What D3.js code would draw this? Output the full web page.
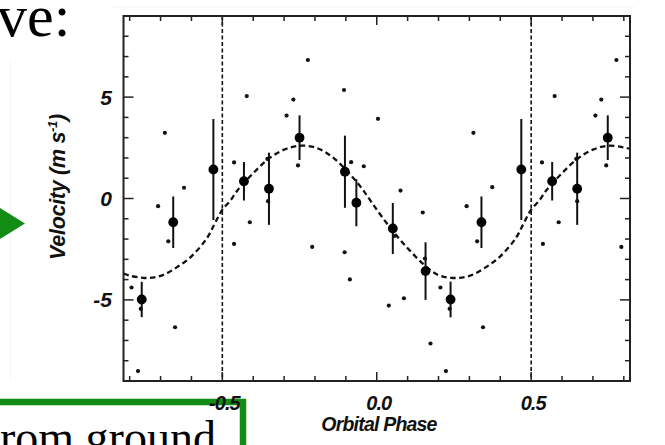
<!DOCTYPE html>
<html><head><meta charset="utf-8">
<script src="https://cdn.jsdelivr.net/npm/d3@7"></script>
<style>body{margin:0;background:#fff;} svg{display:block;}</style>
</head><body>
<svg id="c" width="665" height="445"></svg>
<script>
// binned velocity points (phase, velocity, error)
const binPhase = [-0.761, -0.659, -0.529, -0.430, -0.349, -0.250, -0.103, -0.066, 0.052, 0.158, 0.239, 0.339, 0.468, 0.568, 0.649, 0.748];
const binVel   = [-4.98, -1.17, 1.43, 0.85, 0.48, 3.00, 1.32, -0.21, -1.48, -3.58, -4.98, -1.17, 1.43, 0.85, 0.48, 3.00];
const binErr   = [0.87, 1.27, 2.49, 0.95, 1.78, 1.10, 1.78, 1.16, 1.26, 1.42, 0.88, 1.27, 2.49, 0.95, 1.78, 1.10];
// individual measurements
const dotPhase = [-0.686, 0.313, -0.624, 0.374, -0.708, 0.291, -0.421, 0.576, -0.462, 0.535, -0.354, 0.646, -0.352, 0.649,
  -0.223, 0.776, -0.270, 0.727, -0.292, 0.708, -0.255, 0.743, -0.106, -0.083, -0.042, 0.004, 0.077, 0.149,
  -0.411, 0.589, -0.462, 0.538, -0.209, 0.792, -0.104, -0.087, 0.039, 0.088, 0.174, 0.224, -0.773, 0.344, -0.653,
  0.206, -0.794, 0.236, -0.764, 0.325, -0.675, 0.156, 0.058];
const dotVel = [3.24, 3.24, 0.53, 0.56, -0.38, -0.38, 5.05, 5.05, 1.78, 1.78, 1.95, 1.95, -0.13, -0.13,
  6.83, 6.83, 4.88, 4.88, 4.09, 4.09, 1.63, 1.63, 5.35, 1.79, 1.59, 3.93, 0.39, -0.69,
  -1.17, -1.17, -2.24, -2.24, -2.39, -2.39, -2.65, -3.99, -5.28, -4.92, -7.15, -8.51, -8.51, -6.35, -6.35,
  -4.39, -4.39, -5.44, -5.44, -2.11, -2.11, -2.96, -1.85];
// model curve
const curvePhase = [-0.82,-0.80,-0.75,-0.70,-0.65,-0.60,-0.55,-0.525,-0.50,-0.475,-0.45,-0.40,-0.35,-0.30,-0.25,-0.20,-0.15,-0.10,-0.05,0.00,0.05,0.10,0.15,0.20,0.25,0.30,0.35,0.40,0.45,0.475,0.50,0.525,0.55,0.60,0.65,0.70,0.75,0.80,0.82];
const curveVel = [-3.70,-3.80,-3.92,-3.82,-3.42,-2.85,-1.96,-1.25,-0.55,-0.12,0.42,1.25,1.96,2.41,2.60,2.52,2.12,1.42,0.53,-0.55,-1.57,-2.45,-3.22,-3.78,-3.92,-3.82,-3.42,-2.85,-1.96,-1.25,-0.55,-0.12,0.42,1.25,1.96,2.41,2.60,2.52,2.45];
const markerPhases = [-0.5, 0.5];
const xTickValues = [-0.5, 0, 0.5];
const xTickLabels = ["-0.5", "0.0", "0.5"];
const yTickValues = [-5, 0, 5];
const yTickLabels = ["-5", "0", "5"];

const svg = d3.select("#c");
const L = 123.5, R = 630, T = 16, B = 381;
const x = d3.scaleLinear().domain([-0.82, 0.82]).range([L, R]);
const y = d3.scaleLinear().domain([-9, 9]).range([B, T]);
const font = "'Liberation Sans', Arial, Helvetica, sans-serif";
const green = "#128c14";

svg.append("rect").attr("width", 665).attr("height", 445).attr("fill", "#fff");

// faint slide artefacts
svg.append("line").attr("x1", 112).attr("x2", 634).attr("y1", 7).attr("y2", 7).attr("stroke", "#f3f3f3").attr("stroke-width", 1);
svg.append("line").attr("x1", 10.5).attr("x2", 10.5).attr("y1", 60).attr("y2", 380).attr("stroke", "#f5f5f5").attr("stroke-width", 1);

// title fragment
svg.append("text").attr("x", -3).attr("y", 36).attr("font-family", "'Liberation Serif', 'Times New Roman', serif")
  .attr("font-size", 60).attr("fill", "#000").text("ve:");

// arrow
svg.append("path").attr("d", "M0,208 L25,223.5 L0,239 Z").attr("fill", green);

// dashed markers at phase ±0.5
svg.selectAll(".vm").data(markerPhases).enter().append("line")
  .attr("x1", d => x(d)).attr("x2", d => x(d)).attr("y1", T).attr("y2", B)
  .attr("stroke", "#111").attr("stroke-width", 1.6).attr("stroke-dasharray", "4,2.5");

// model curve
const line = d3.line().x((d, i) => x(curvePhase[i])).y(d => y(d)).curve(d3.curveCatmullRom.alpha(0.5));
svg.append("path").attr("d", line(curveVel)).attr("fill", "none").attr("stroke", "#111")
  .attr("stroke-width", 2.3).attr("stroke-dasharray", "5.5,3.5");

// individual points
svg.selectAll(".dot").data(dotVel).enter().append("circle")
  .attr("cx", (d, i) => x(dotPhase[i])).attr("cy", d => y(d)).attr("r", 2.1).attr("fill", "#111");

// error bars & binned points
svg.selectAll(".eb").data(binVel).enter().append("line")
  .attr("x1", (d, i) => x(binPhase[i])).attr("x2", (d, i) => x(binPhase[i]))
  .attr("y1", (d, i) => y(d + binErr[i])).attr("y2", (d, i) => y(d - binErr[i]))
  .attr("stroke", "#111").attr("stroke-width", 2);
svg.selectAll(".bp").data(binVel).enter().append("circle")
  .attr("cx", (d, i) => x(binPhase[i])).attr("cy", d => y(d)).attr("r", 4.9).attr("fill", "#000");

// frame
svg.append("rect").attr("x", L).attr("y", T).attr("width", R - L).attr("height", B - T)
  .attr("fill", "none").attr("stroke", "#222").attr("stroke-width", 2);

// ticks
const xMinor = d3.range(-8, 9).map(v => v / 10);
const yMinor = d3.range(-8, 9);
const isMajX = v => xTickValues.some(t => Math.abs(t - v) < 1e-9);
const isMajY = v => yTickValues.some(t => Math.abs(t - v) < 1e-9);
const tk = svg.append("g").attr("stroke", "#222").attr("stroke-width", 1.5);
xMinor.forEach(v => {
  const len = isMajX(v) ? 9 : 5;
  tk.append("line").attr("x1", x(v)).attr("x2", x(v)).attr("y1", B).attr("y2", B - len);
  tk.append("line").attr("x1", x(v)).attr("x2", x(v)).attr("y1", T).attr("y2", T + len);
});
yMinor.forEach(v => {
  const len = isMajY(v) ? 10 : 5;
  tk.append("line").attr("x1", L).attr("x2", L + len).attr("y1", y(v)).attr("y2", y(v));
  tk.append("line").attr("x1", R).attr("x2", R - len).attr("y1", y(v)).attr("y2", y(v));
});

// green box (slide overlay)
svg.append("path").attr("d", "M-5,402 L243,402 L243,450").attr("fill", "none").attr("stroke", green).attr("stroke-width", 6.5);
svg.append("text").attr("x", 0).attr("y", 453).attr("font-family", "'Liberation Serif', 'Times New Roman', serif")
  .attr("font-size", 46).attr("fill", "#000").text("rom ground");

// tick labels
svg.selectAll(".xl").data(xTickValues).enter().append("text")
  .attr("x", d => x(d) + 2).attr("y", 410).attr("text-anchor", "middle")
  .attr("font-family", font).attr("font-weight", "bold").attr("font-style", "italic")
  .attr("font-size", 20).attr("letter-spacing", -1).attr("fill", "#111")
  .text((d, i) => xTickLabels[i]);
svg.selectAll(".yl").data(yTickValues).enter().append("text")
  .attr("x", 112).attr("y", d => y(d) + 7.5).attr("text-anchor", "end")
  .attr("font-family", font).attr("font-weight", "bold").attr("font-style", "italic")
  .attr("font-size", 21).attr("fill", "#111")
  .text((d, i) => yTickLabels[i]);

// axis titles
svg.append("text").attr("x", 379).attr("y", 431).attr("text-anchor", "middle")
  .attr("font-family", font).attr("font-weight", "bold").attr("font-style", "italic")
  .attr("font-size", 19.5).attr("letter-spacing", -0.8).attr("fill", "#111").text("Orbital Phase");
const yt = svg.append("text").attr("transform", "translate(65,187) rotate(-90)").attr("text-anchor", "middle")
  .attr("font-family", font).attr("font-weight", "bold").attr("font-style", "italic")
  .attr("font-size", 21.5).attr("letter-spacing", -0.3).attr("fill", "#111");
yt.append("tspan").text("Velocity (m s");
yt.append("tspan").attr("dy", -8).attr("font-size", 13).text("-1");
yt.append("tspan").attr("dy", 8).text(")");
</script>
</body></html>
